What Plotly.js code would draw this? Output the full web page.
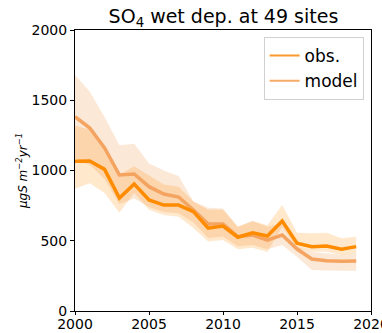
<!DOCTYPE html>
<html>
<head>
<meta charset="utf-8">
<script src="https://cdn.plot.ly/plotly-3.0.1.min.js"></script>
<style>
  html, body { margin: 0; padding: 0; background: #fff; }
  #chart { width: 382px; height: 333px; }
</style>
</head>
<body>
<div id="chart"></div>
<script>
// Annual SO4 wet deposition, mean over 49 sites (µg S m-2 yr-1)
const years = [2000, 2001, 2002, 2003, 2004, 2005, 2006, 2007, 2008, 2009,
               2010, 2011, 2012, 2013, 2014, 2015, 2016, 2017, 2018, 2019];

const obs   = [1065, 1067, 1008, 804, 904, 790, 754, 754, 707, 590,
               605, 525, 557, 534, 640, 482, 458, 463, 439, 458];
const obsHi = [1320, 1290, 1160, 970, 1030, 965, 900, 885, 780, 720,
               720, 600, 640, 610, 754, 557, 553, 557, 517, 529];
const obsLo = [870, 910, 840, 700, 840, 720, 683, 671, 590, 495,
               505, 440, 450, 420, 600, 446, 422, 422, 399, 410];

const model = [1383, 1302, 1160, 968, 975, 885, 833, 811, 719, 619,
               619, 529, 541, 505, 541, 441, 370, 358, 354, 356];
const modHi = [1680, 1560, 1380, 1180, 1190, 1050, 1000, 960, 780, 735,
               730, 600, 640, 600, 626, 458, 420, 410, 400, 410];
const modLo = [1085, 1040, 940, 760, 800, 740, 705, 695, 630, 520,
               530, 460, 470, 440, 470, 387, 292, 287, 287, 287];

const xTicks = [2000, 2005, 2010, 2015, 2020];
const yTicks = [0, 500, 1000, 1500, 2000];

const obsColor = '#ff8c00';
const modColor = '#f4a460';
const font = 'DejaVu Sans, sans-serif';

// closed polygon for a shaded spread band
function band(lo, hi, fillcolor) {
  return {
    x: years.concat(years.slice().reverse()),
    y: hi.concat(lo.slice().reverse()),
    type: 'scatter', mode: 'lines', fill: 'toself',
    fillcolor: fillcolor, line: {width: 0}, hoverinfo: 'skip', showlegend: false
  };
}

const traces = [
  band(modLo, modHi, 'rgba(244,164,96,0.25)'),
  band(obsLo, obsHi, 'rgba(255,140,0,0.2)'),
  {x: years, y: model, type: 'scatter', mode: 'lines', name: 'model',
   line: {color: modColor, width: 3.5}, showlegend: false},
  {x: years, y: obs, type: 'scatter', mode: 'lines', name: 'obs.',
   line: {color: obsColor, width: 3.5}, showlegend: false},
  // legend entries
  {x: [null], y: [null], type: 'scatter', mode: 'lines', name: 'obs.',
   line: {color: '#fb9a2c', width: 2}},
  {x: [null], y: [null], type: 'scatter', mode: 'lines', name: 'model',
   line: {color: '#f6ab6a', width: 2}}
];

const axisCommon = {
  showline: true, mirror: true, linecolor: '#000', linewidth: 1,
  ticks: 'outside', ticklen: 4, tickcolor: '#000', tickwidth: 1,
  showgrid: false, zeroline: false, ticklabeloverflow: 'allow',
  tickfont: {family: font, size: 14, color: '#000'}
};

const layout = {
  width: 382, height: 333,
  margin: {l: 75, r: 11, t: 30, b: 22},
  paper_bgcolor: '#fff', plot_bgcolor: '#fff',
  font: {family: font, color: '#000'},
  title: {
    text: 'SO<sub>4</sub> wet dep. at 49 sites',
    font: {family: font, size: 19, color: '#000'},
    x: 0.585, xanchor: 'center', y: 0.95, yanchor: 'middle'
  },
  xaxis: Object.assign({}, axisCommon, {
    range: [2000, 2020], tickvals: xTicks, ticklen: 3, ticklabelstandoff: -3
  }),
  yaxis: Object.assign({}, axisCommon, {
    range: [0, 2000], tickvals: yTicks,
    title: {text: '<i>μgS m<sup>−2</sup>yr<sup>−1</sup></i>',
            font: {family: font, size: 12, color: '#000'}, standoff: 1}
  }),
  legend: {
    x: 0.975, xanchor: 'right', y: 0.975, yanchor: 'top',
    bgcolor: 'rgba(255,255,255,0.8)', bordercolor: '#d0d0d0', borderwidth: 1,
    font: {family: font, size: 17, color: '#000'},
    tracegroupgap: 0
  },
  showlegend: true
};

Plotly.newPlot('chart', traces, layout, {displayModeBar: false, staticPlot: true});
</script>
</body>
</html>
